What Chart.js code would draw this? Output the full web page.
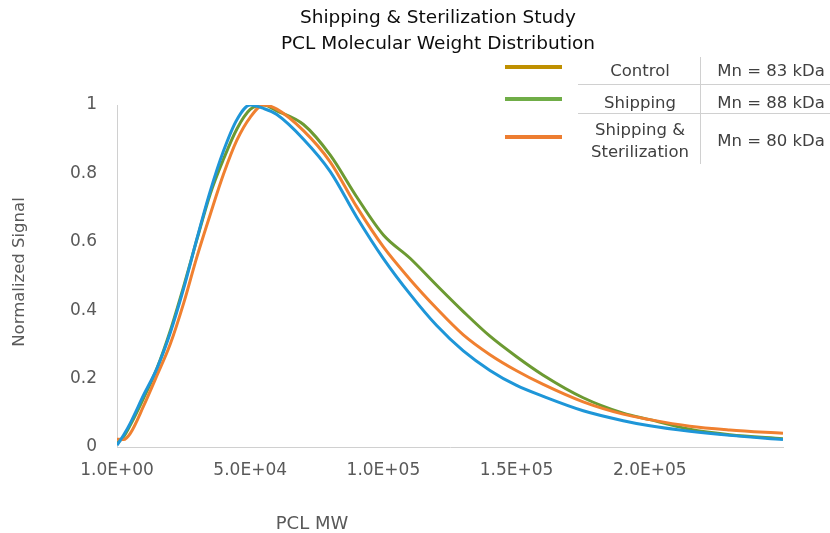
<!DOCTYPE html>
<html>
<head>
<meta charset="utf-8">
<script src="https://cdn.jsdelivr.net/npm/chart.js@4.4.1/dist/chart.umd.min.js"></script>
<style>
  html, body { margin: 0; padding: 0; background: #fff; }
  #wrap { width: 830px; height: 533px; position: relative; }
</style>
</head>
<body>
<div id="wrap"><canvas id="mwChart"></canvas></div>
<script>
// molecular weight (x) and normalized detector signal for each sample
const mw = [1, 2500, 5000, 10000, 15000, 20000, 25000, 30000, 35000, 40000, 45000, 50000, 55000, 60000,
  70000, 80000, 90000, 100000, 110000, 120000, 130000, 140000, 150000, 160000, 175000, 190000,
  200000, 215000, 230000, 250000];
const control = [0.005, 0.035, 0.07, 0.152, 0.23, 0.334, 0.463, 0.609, 0.748, 0.866, 0.957, 1.0, 0.99, 0.972,
  0.90, 0.806, 0.672, 0.551, 0.447, 0.355, 0.281, 0.224, 0.18, 0.148, 0.106, 0.077,
  0.062, 0.046, 0.034, 0.022];
const shipping = [0.01, 0.03, 0.064, 0.143, 0.23, 0.34, 0.469, 0.607, 0.74, 0.842, 0.93, 0.987, 1.0, 0.983,
  0.943, 0.854, 0.731, 0.62, 0.552, 0.473, 0.396, 0.324, 0.264, 0.21, 0.144, 0.099,
  0.08, 0.052, 0.036, 0.024];
const shipSter = [0.023, 0.022, 0.04, 0.12, 0.209, 0.301, 0.42, 0.556, 0.68, 0.798, 0.897, 0.964, 1.0, 0.988,
  0.925, 0.834, 0.702, 0.585, 0.49, 0.405, 0.328, 0.27, 0.223, 0.183, 0.132, 0.096,
  0.08, 0.061, 0.05, 0.04];

const xTicks = [1, 50000, 100000, 150000, 200000];
const xTickLabels = ['1.0E+00', '5.0E+04', '1.0E+05', '1.5E+05', '2.0E+05'];

const legendNames = [['Control'], ['Shipping'], ['Shipping &', 'Sterilization']];
const mnLabels = ['Mn = 83 kDa', 'Mn = 88 kDa', 'Mn = 80 kDa'];
const legendColors = ['#bf9000', '#70ad47', '#ed7d31'];

const FONT = "'DejaVu Sans', sans-serif";
const GREY = '#595959';

const toPoints = (ys) => mw.map((x, i) => ({ x: x, y: ys[i] }));

const lineStyle = {
  showLine: true,
  pointRadius: 0,
  pointHoverRadius: 0,
  borderWidth: 3,
  cubicInterpolationMode: 'monotone',
  fill: false
};

// titles, axis titles and the legend table drawn on top of the chart
const decorations = {
  id: 'decorations',
  afterDraw(chart) {
    const ctx = chart.ctx;
    ctx.save();
    ctx.textAlign = 'center';
    ctx.textBaseline = 'middle';

    ctx.fillStyle = '#0d0d0d';
    ctx.font = '18.5px ' + FONT;
    ctx.fillText('Shipping & Sterilization Study', 438, 18);
    ctx.fillText('PCL Molecular Weight Distribution', 438, 44);

    ctx.fillStyle = GREY;
    ctx.font = '18px ' + FONT;
    ctx.fillText('PCL MW', 312, 524);

    ctx.save();
    ctx.translate(20, 272);
    ctx.rotate(-Math.PI / 2);
    ctx.font = '16.5px ' + FONT;
    ctx.fillText('Normalized Signal', 0, 0);
    ctx.restore();

    // legend table
    const rowY = [69, 101, 139];
    ctx.lineWidth = 4;
    legendColors.forEach((c, i) => {
      ctx.strokeStyle = c;
      ctx.beginPath();
      ctx.moveTo(505, rowY[i] - 2);
      ctx.lineTo(562, rowY[i] - 2);
      ctx.stroke();
    });

    ctx.strokeStyle = '#d0d0d0';
    ctx.lineWidth = 1;
    ctx.beginPath();
    ctx.moveTo(578, 84.5); ctx.lineTo(830, 84.5);
    ctx.moveTo(578, 113.5); ctx.lineTo(830, 113.5);
    ctx.moveTo(700.5, 57); ctx.lineTo(700.5, 164);
    ctx.stroke();

    ctx.fillStyle = '#404040';
    ctx.font = '16.5px ' + FONT;
    legendNames.forEach((lines, i) => {
      const lh = 22;
      const y0 = rowY[i] + 3 - (lines.length - 1) * lh / 2;
      lines.forEach((t, j) => ctx.fillText(t, 640, y0 + j * lh));
      ctx.fillText(mnLabels[i], 771, rowY[i] + 3);
    });

    ctx.restore();
  }
};

new Chart(document.getElementById('mwChart'), {
  type: 'scatter',
  data: {
    datasets: [
      Object.assign({ label: 'Control', data: toPoints(control), borderColor: '#1e96d8' }, lineStyle),
      Object.assign({ label: 'Shipping & Sterilization', data: toPoints(shipSter), borderColor: '#f08030' }, lineStyle),
      Object.assign({ label: 'Shipping', data: toPoints(shipping), borderColor: '#6c9a32' }, lineStyle)
    ]
  },
  options: {
    responsive: true,
    maintainAspectRatio: false,
    devicePixelRatio: 1,
    animation: false,
    layout: { padding: { top: 105, right: 47, bottom: 0, left: 0 } },
    plugins: {
      legend: { display: false },
      title: { display: false },
      tooltip: { enabled: false }
    },
    scales: {
      x: {
        type: 'linear',
        min: 1,
        max: 250000,
        afterFit: (scale) => { scale.height = 86; },
        afterBuildTicks: (scale) => { scale.ticks = xTicks.map(v => ({ value: v })); },
        grid: { display: false, drawTicks: false },
        border: { display: true, color: '#d0d0d0', width: 1 },
        ticks: {
          padding: 13,
          color: GREY,
          font: { family: FONT, size: 17 },
          maxRotation: 0,
          autoSkip: false,
          callback: (v, i) => xTickLabels[i]
        }
      },
      y: {
        min: 0,
        max: 1,
        afterFit: (scale) => { scale.width = 117; },
        grid: { display: false, drawTicks: false },
        border: { display: true, color: '#d0d0d0', width: 1 },
        ticks: {
          stepSize: 0.2,
          padding: 20,
          color: GREY,
          font: { family: FONT, size: 17 },
          callback: (v) => String(+v.toFixed(1))
        }
      }
    }
  },
  plugins: [decorations]
});
</script>
</body>
</html>
